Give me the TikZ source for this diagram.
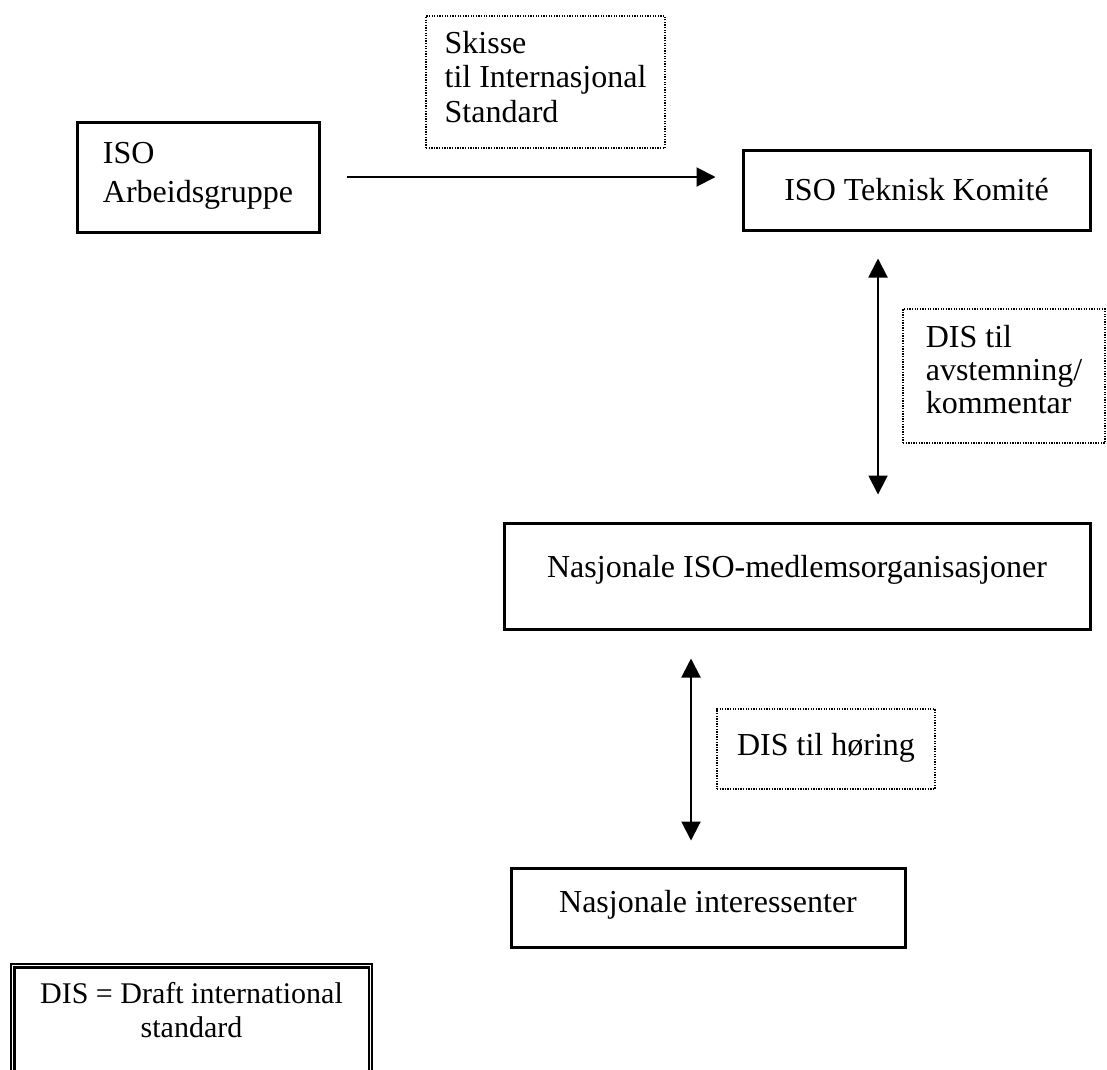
\documentclass[tikz,border=0pt]{standalone}
\usepackage{fontspec}
\setmainfont{Liberation Serif}
\usetikzlibrary{arrows.meta}
\begin{document}
\begin{tikzpicture}[x=1pt,y=-1pt,
  every node/.style={font=\fontsize{32}{34}\selectfont, inner xsep=0pt, inner ysep=0pt, text height=21pt},
  box/.style={draw, line width=3pt, rectangle},
  note/.style={draw, line width=1.3pt, dash pattern=on 1.3pt off 1.3pt, rectangle},
  arr/.style={line width=2pt, -{Triangle[length=19pt,width=19pt]}},
  darr/.style={line width=2pt, {Triangle[length=19pt,width=19pt]}-{Triangle[length=19pt,width=19pt]}},
  legbox/.style={draw, line width=2.4pt, rectangle, align=center, font=\fontsize{30}{34}\selectfont}
]
\clip (0,0) rectangle (1107,1069);
\node[box, minimum width=242pt, minimum height=110pt, align=left, text height=60pt, text depth=10pt] (arb) at (198,177) {ISO\\[5pt]Arbeidsgruppe};
\node[note, minimum width=239pt, minimum height=132pt, align=left, text height=90pt, text depth=10pt] (skisse) at (545.5,82) {Skisse\\[0.5pt]til Internasjonal\\[0.5pt]Standard};
\node[box, minimum width=347pt, minimum height=80pt, text depth=1pt] (tek) at (916.5,190) {ISO Teknisk Komité};
\node[note, minimum width=202pt, minimum height=134pt, align=left, text height=87pt, text depth=13pt] (dis1) at (1004,376) {DIS til\\[-1pt]avstemning/\\[-1pt]kommentar};
\node[box, minimum width=586pt, minimum height=106pt, text depth=19pt] (nat) at (797,576) {Nasjonale ISO-medlemsorganisasjoner};
\node[note, minimum width=218pt, minimum height=80pt, text depth=9pt] (dis2) at (826,749) {DIS til høring};
\node[box, minimum width=394pt, minimum height=79pt, text depth=12pt] (int) at (708,907.5) {Nasjonale interessenter};
\node[legbox, minimum width=361pt, minimum height=126pt, text height=54pt, text depth=34pt] (leg) at (191.5,1027) {DIS = Draft international\\standard};
\draw[line width=2.4pt] ([shift={(4.5pt,-4.5pt)}]leg.north west) rectangle ([shift={(-4.5pt,4.5pt)}]leg.south east);
% connectors
\coordinate (astart) at ([xshift=26pt]arb.east);
\coordinate (aend) at ([xshift=-26pt]tek.west);
\draw[arr] (astart) -- (aend |- astart);
\coordinate (c1) at (878,0);
\coordinate (c2) at (691,0);
\coordinate (t1) at ([yshift=-27pt]tek.south);
\coordinate (b1) at ([yshift=27pt]nat.north);
\draw[darr] (t1 -| c1) -- (b1 -| c1);
\coordinate (t2) at ([yshift=-28pt]nat.south);
\coordinate (b2) at ([yshift=26pt]int.north);
\draw[darr] (t2 -| c2) -- (b2 -| c2);
\end{tikzpicture}
\end{document}
